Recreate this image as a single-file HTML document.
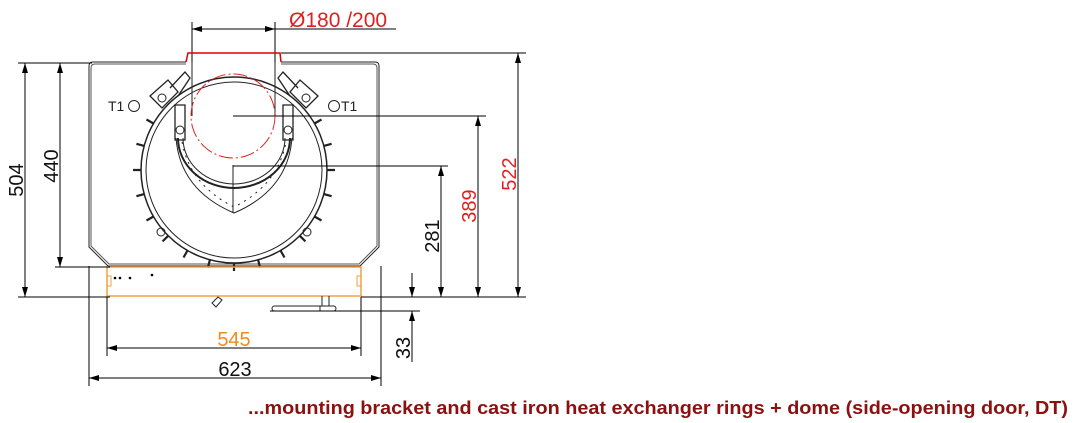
<!DOCTYPE html>
<html><head><meta charset="utf-8"><style>
html,body{margin:0;padding:0;background:#fff;width:1075px;height:423px;overflow:hidden}
svg{display:block}
text{font-family:"Liberation Sans",Arial,sans-serif}
</style></head><body>
<svg width="1075" height="423" viewBox="0 0 1075 423" xmlns="http://www.w3.org/2000/svg">
<defs>
<marker id="a" viewBox="0 0 10 6" refX="10" refY="3" markerWidth="10" markerHeight="6" orient="auto-start-reverse" markerUnits="userSpaceOnUse"><path d="M0,0 L10,3 L0,6 z" fill="#000"/></marker>
</defs>
<g stroke="#222" fill="none" stroke-width="1">
<!-- body outline -->
<path d="M186,62 L93,62 Q89,62 89,66 L89,247 L108,266 L360,266 L379,247 L379,66 Q379,62 375,62 L281,62"/>
<path d="M186,64 L95,64 Q91,64 91,68 L91,246 L109,264 L359,264 L377,246 L377,68 Q377,64 373,64 L281,64" stroke="#555"/>
<!-- rings -->
<circle cx="234" cy="170" r="93" stroke-width="1.5"/>
<circle cx="234" cy="170" r="88"/>
<path stroke-width="2.2" d="M314.5,123.5L321.5,119.5M323.8,145.9L331.6,143.8M327,170L335,170M323.8,194.1L331.6,196.2M314.5,216.5L321.5,220.5M299.8,235.8L305.4,241.4M280.5,250.5L284.5,257.5M258.1,259.8L260.1,267.6M234,263L234,271M209.9,259.8L207.9,267.6M187.5,250.5L183.5,257.5M168.2,235.8L162.6,241.4M153.5,216.5L146.5,220.5M144.2,194.1L136.4,196.2M141,170L133,170M144.2,145.9L136.4,143.8M153.5,123.5L146.5,119.5"/>
<!-- dome heart -->
<path d="M176,138 Q180,190 234,213 Q288,190 292,138"/>
<path d="M182,142 Q190,185 234,207 Q278,185 286,142" stroke-dasharray="2,5"/>
<path d="M178,138 A56,50 0 0 0 290,138" stroke-width="2"/>
<path d="M183,138 A51,46 0 0 0 285,138"/>
<line x1="233" y1="165" x2="233" y2="213"/>
<!-- brackets -->
<path d="M170,88 L185,72 L190,78 L178,96 M150,96 L168,80 L178,92 L162,108 z M175,105 L185,105 L185,140 L175,140 z" stroke-width="1.3"/>
<path d="M298,88 L283,72 L278,78 L290,96 M318,96 L300,80 L290,92 L306,108 z M283,105 L293,105 L293,140 L283,140 z" stroke-width="1.3"/>
<circle cx="162" cy="98" r="4"/><circle cx="306" cy="98" r="4"/>
<circle cx="180" cy="130" r="4"/><circle cx="288" cy="130" r="4"/>
<circle cx="161" cy="232" r="4"/><circle cx="307" cy="232" r="4"/>
<circle cx="134" cy="106" r="5.5"/><circle cx="334" cy="106" r="5.5"/>
<!-- flue -->
<path d="M192,62 L192,116 M275,62 L275,116"/>
<!-- orange base -->
<rect x="107" y="267" width="254" height="29" stroke="#f0a040" stroke-width="1.5"/>
<path d="M107,276 L111,276 L111,286 L107,286 M361,276 L357,276 L357,286 L361,286" stroke="#f0a040"/>
<!-- under parts -->
<path d="M212,303 l6,-6 l4,3 l-6,7 z"/>
<rect x="272" y="306" width="64" height="5" rx="2.5"/>
<path d="M322,296 L322,306 M329,296 L329,306 M320,306 L320,311"/>
<!-- dimension lines -->
<g stroke="#000">
<line x1="192" y1="22" x2="192" y2="62"/><line x1="275" y1="22" x2="275" y2="62"/>
<line x1="192" y1="29" x2="275" y2="29" marker-start="url(#a)" marker-end="url(#a)"/>
<line x1="275" y1="29" x2="396" y2="29"/>
<line x1="281" y1="53" x2="526" y2="53"/>
<line x1="233" y1="116" x2="486" y2="116"/>
<line x1="233" y1="166" x2="448" y2="166"/>
<line x1="361" y1="297" x2="526" y2="297"/>
<line x1="270" y1="311" x2="420" y2="311"/>
<line x1="518" y1="53" x2="518" y2="297" marker-start="url(#a)" marker-end="url(#a)"/>
<line x1="478" y1="116" x2="478" y2="297" marker-start="url(#a)" marker-end="url(#a)"/>
<line x1="441" y1="166" x2="441" y2="297" marker-start="url(#a)" marker-end="url(#a)"/>
<line x1="412" y1="273" x2="412" y2="297" marker-end="url(#a)"/>
<line x1="412" y1="362" x2="412" y2="311" marker-end="url(#a)"/>
<line x1="18" y1="63" x2="92" y2="63"/>
<line x1="55" y1="267" x2="110" y2="267"/>
<line x1="18" y1="297" x2="110" y2="297"/>
<line x1="25" y1="63" x2="25" y2="297" marker-start="url(#a)" marker-end="url(#a)"/>
<line x1="60" y1="63" x2="60" y2="267" marker-start="url(#a)" marker-end="url(#a)"/>
<line x1="107" y1="297" x2="107" y2="356"/><line x1="361" y1="297" x2="361" y2="356"/>
<line x1="89" y1="266" x2="89" y2="386"/><line x1="381" y1="266" x2="381" y2="386"/>
<line x1="107" y1="348" x2="361" y2="348" marker-start="url(#a)" marker-end="url(#a)"/>
<line x1="89" y1="378" x2="381" y2="378" marker-start="url(#a)" marker-end="url(#a)"/>
</g>
</g>
<path d="M186,62 L188,53 L280,53 L281,62" fill="none" stroke="#d00" stroke-width="1.5"/>
<circle cx="233" cy="116" r="42" fill="none" stroke="#d22" stroke-dasharray="14,3,2,3"/>
<g fill="#000">
<circle cx="115" cy="278" r="1.3"/><circle cx="120" cy="278" r="1.3"/><circle cx="130" cy="278" r="1.3"/><circle cx="152" cy="275" r="1.3"/>
</g>
<text x="289" y="27" font-size="21" fill="#e02020">Ø180 /200</text>
<text x="108" y="111" font-size="14" fill="#222">T1</text>
<text x="341" y="111" font-size="14" fill="#222">T1</text>
<text x="234" y="346" font-size="20" fill="#f08c20" text-anchor="middle">545</text>
<text x="235" y="376" font-size="20" fill="#111" text-anchor="middle">623</text>
<g font-size="20">
<text transform="translate(23,180) rotate(-90)" text-anchor="middle" fill="#111">504</text>
<text transform="translate(58,166) rotate(-90)" text-anchor="middle" fill="#111">440</text>
<text transform="translate(439,236) rotate(-90)" text-anchor="middle" fill="#111">281</text>
<text transform="translate(476,206) rotate(-90)" text-anchor="middle" fill="#e02020">389</text>
<text transform="translate(516,174) rotate(-90)" text-anchor="middle" fill="#e02020">522</text>
<text transform="translate(410,348) rotate(-90)" text-anchor="middle" fill="#111">33</text>
</g>
<text x="248" y="414" font-size="18" font-weight="bold" fill="#8b1010" textLength="820" lengthAdjust="spacingAndGlyphs">...mounting bracket and cast iron heat exchanger rings + dome (side-opening door, DT)</text>
</svg>
</body></html>
